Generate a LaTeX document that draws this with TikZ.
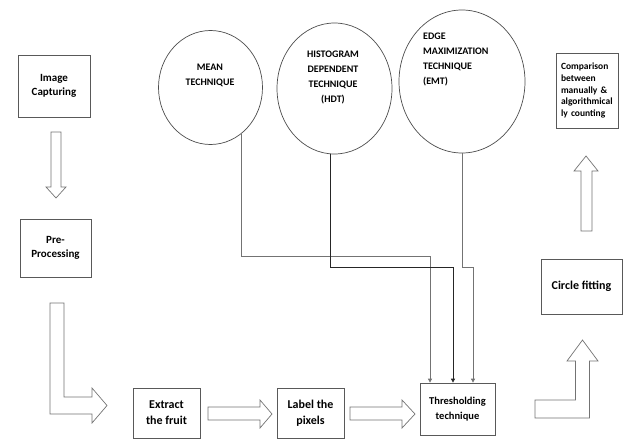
\documentclass[tikz,border=0pt]{standalone}
\usepackage{fontspec}
\setmainfont{Carlito}
\usetikzlibrary{arrows.meta,shapes.geometric,calc}
\begin{document}
\begin{tikzpicture}[x=1pt,y=-1pt,
 box/.style={draw=black!65,line width=0.7pt,inner sep=0,align=center},
 ell/.style={draw=black!70,ellipse,line width=0.7pt,inner sep=0},
 ctext/.style={align=center,font=\bfseries\fontsize{10}{15}\selectfont,inner sep=0},
 blk/.style={draw=black!55,line width=0.7pt,fill=white,line join=miter},
 conn/.style={draw=black!55,line width=0.7pt,-{Triangle[length=4pt,width=4pt]}},
]
\useasboundingbox (0,0) rectangle (627,439);

% boxes
\node[box,minimum width=72pt,minimum height=62pt,font=\bfseries\fontsize{11}{14}\selectfont] (cap) at (54,86) {Image\\Capturing};
\node[box,minimum width=71pt,minimum height=58pt,font=\bfseries\fontsize{11}{14}\selectfont] (pre) at (55.5,248) {Pre-\\Processing};
\node[box,minimum width=67pt,minimum height=50pt,font=\bfseries\fontsize{12}{16}\selectfont] (ext) at (166.5,413) {Extract\\the fruit};
\node[box,minimum width=67pt,minimum height=50pt,font=\bfseries\fontsize{12}{16}\selectfont] (lab) at (310.5,413) {Label the\\pixels};
\node[box,minimum width=75pt,minimum height=52pt,font=\bfseries\fontsize{10.5}{15.5}\selectfont] (thr) at (457.5,409) {Thresholding\\technique};
\node[box,minimum width=81pt,minimum height=55pt,font=\bfseries\fontsize{12}{15}\selectfont] (circ) at (581.5,286.5) {Circle fitting};
\node[box,minimum width=62pt,minimum height=75pt,align=left,text width=52pt,inner xsep=5pt,font=\bfseries\fontsize{9.5}{11.6}\selectfont] (comp) at (587,90.5) {Comparison\\between\\manually \&\\algorithmical\\ly counting};

% ellipses
\node[ell,minimum width=104pt,minimum height=114pt] (mean) at (210.5,87.5) {};
\node[ell,minimum width=115pt,minimum height=131pt] (hdt) at (334.5,88.5) {};
\node[ell,minimum width=126pt,minimum height=143pt] (emt) at (462,81.5) {};
\node[ctext] (meant) at (210,75.5) {MEAN\\TECHNIQUE};
\node[ctext] (hdtt) at (333,77) {HISTOGRAM\\DEPENDENT\\TECHNIQUE\\(HDT)};
\node[ctext,align=left,anchor=west] (emtt) at (423,59.5) {EDGE\\MAXIMIZATION\\TECHNIQUE\\(EMT)};

% connectors
\coordinate (b1) at (430,256);
\coordinate (b2) at (453,267);
\coordinate (b3) at (473,267);
\draw[conn] (mean.-56.6) |- (b1) -- (b1 |- thr.north);
\draw[conn,draw=black!85] ($(hdt.south)+(-4.5,0)$) |- (b2) -- (b2 |- thr.north);
\draw[conn] (emt.south) |- (b3) -- (b3 |- thr.north);

% block arrows
\draw[blk] (51,132) -- (61,132) -- (61,187) -- (66,187) -- (56,198) -- (46,187) -- (51,187) -- cycle;
\draw[blk] (50,303) -- (64,303) -- (64,397) -- (92,397) -- (92,388) -- (107,405.5) -- (92,423) -- (92,414) -- (50,414) -- cycle;
\draw[blk] (208,407) -- (260,407) -- (260,400) -- (272,414) -- (260,428) -- (260,420) -- (208,420) -- cycle;
\draw[blk] (350,407) -- (402,407) -- (402,400) -- (415,414) -- (402,428) -- (402,420) -- (350,420) -- cycle;
\draw[blk] (535,400) -- (575.5,400) -- (575.5,361) -- (567,361) -- (582.5,340) -- (598,361) -- (589.5,361) -- (589.5,418) -- (535,418) -- cycle;
\draw[blk] (581,231) -- (581,171) -- (574,171) -- (586,156) -- (598,171) -- (592,171) -- (592,231) -- cycle;
\end{tikzpicture}
\end{document}
